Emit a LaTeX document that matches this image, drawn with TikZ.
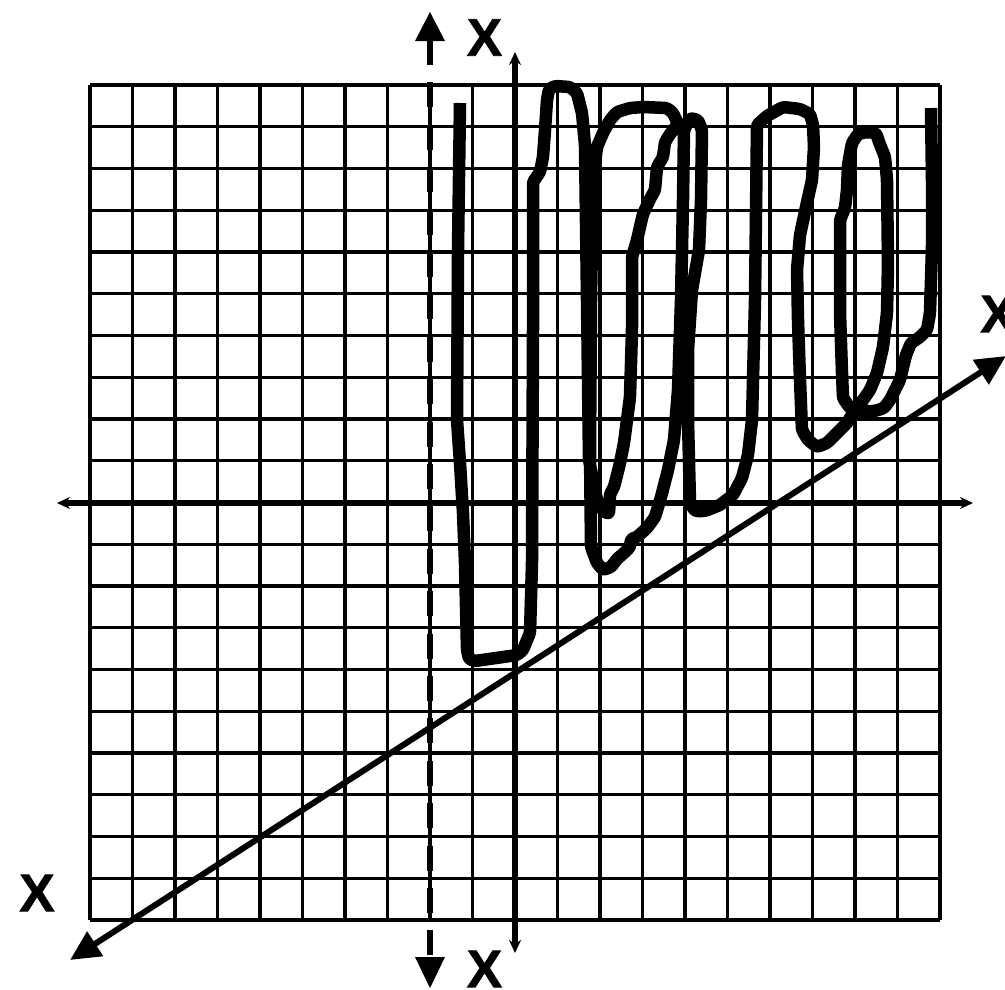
\documentclass[tikz,border=0pt]{standalone}
\usepackage{fontspec}
\setmainfont{Liberation Sans}
\newfontfamily\xlabfont[FakeBold=1.2]{Liberation Sans Bold}
\usetikzlibrary{arrows.meta}
\tikzset{
  gridline/.style={line width=3.2pt, black},
  axisline/.style={line width=5.2pt, black, {Stealth[length=13pt,width=12pt]}-{Stealth[length=13pt,width=12pt]}},
  dashline/.style={line width=6.8pt, black, dash pattern=on 25pt off 17.4pt},
  diagline/.style={line width=6pt, black, {Triangle[length=30pt,width=28pt]}-{Triangle[length=30pt,width=28pt]}},
  scribble/.style={line width=12.5pt, black, line join=round, line cap=butt, rounded corners=2.5pt},
  xlabel/.style={font=\xlabfont\fontsize{53}{53}\selectfont, inner sep=0pt, anchor=center}
}
\begin{document}
\begin{tikzpicture}[x=1pt,y=-1pt]
\useasboundingbox (0,0) rectangle (1005,989);
% grid
\foreach \i in {0,...,20} {
  \draw[gridline] ({90+42.5*\i},85) -- ({90+42.5*\i},920);
  \draw[gridline] (90,{85+41.75*\i}) -- (940,{85+41.75*\i});
}
% axes
\coordinate (xl) at (57,503);
\coordinate (xr) at (973,503);
\coordinate (yt) at (515,52);
\coordinate (yb) at (515,953);
\draw[axisline] (xl) -- (xr);
\draw[axisline] (yt) -- (yb);
% dashed vertical line with triangles
\coordinate (dt) at (430,40);
\coordinate (db) at (430,958);
\draw[dashline] (dt) -- (db);
\fill (415,41) -- (445,41) -- (430,12) -- cycle;
\fill (415,957) -- (445,957) -- (430,988) -- cycle;
% diagonal
\coordinate (dl) at (70,960);
\coordinate (dr) at (1006,356);
\draw[diagline] (dl) -- (dr);
% labels
\node[xlabel] (xtop) at (484.5,37.5) {X};
\node[xlabel] (xbot) at (484.5,969) {X};
\node[xlabel] (xleft) at (37,893) {X};
\node[xlabel] (xright) at (998,314) {X};
% scribble
\draw[scribble]
 (460,103) -- (458,250) -- (457,420) -- (460,463) -- (463,513) -- (465,563) -- (467,650) -- (469,659)
 -- (475,661) -- (517,655) -- (523,650) -- (527,640) -- (530,633) -- (532,563) -- (533,330) -- (533,182)
 -- (540,172) -- (543,157) -- (545,130) -- (547,100) -- (549,89) -- (555,86) -- (570,87) -- (577,93)
 -- (582,113) -- (585,145) -- (587,300) -- (589,460) -- (597,500) -- (603,511) -- (609,514) -- (610,494)
 -- (614,487) -- (620,463) -- (624,443) -- (630,397) -- (632,330) -- (632,257) -- (637,240) -- (643,214)
 -- (650,199) -- (655,190) -- (657,167) -- (663,157) -- (665,142) -- (670,134) -- (678,124)
 -- (673,113) -- (667,108) -- (643,107) -- (630,108) -- (617,112) -- (610,120) -- (603,133) -- (597,147)
 -- (593,180) -- (591,300) -- (590,450) -- (591,547) -- (597,563) -- (603,570) -- (611,567) -- (617,559)
 -- (624,553) -- (630,547) -- (631,539) -- (637,537) -- (647,528) -- (655,517) -- (661,497) -- (668,470)
 -- (674,440) -- (678,390) -- (681,300) -- (683,200) -- (684,130) -- (690,118) -- (698,120) -- (702,130)
 -- (701,200) -- (699,250) -- (692,290) -- (688,350) -- (688,420) -- (690,503) -- (695,511) -- (705,511)
 -- (720,505) -- (733,495) -- (742,478) -- (748,455) -- (752,420) -- (755,300) -- (757,125) -- (767,116)
 -- (783,107) -- (800,109) -- (810,114) -- (813,125) -- (814,147) -- (812,180) -- (806,207) -- (800,235)
 -- (797,270) -- (798,320) -- (800,380) -- (802,430) -- (808,440) -- (817,447) -- (827,443) -- (837,433)
 -- (847,423) -- (853,413) -- (863,400) -- (870,390) -- (877,373) -- (883,347) -- (887,313) -- (888,263)
 -- (887,180) -- (885,157) -- (879,142) -- (876,133) -- (867,132) -- (858,134) -- (852,143) -- (848,165)
 -- (847,190) -- (845,208) -- (840,220) -- (840,250) -- (840,313) -- (842,373) -- (843,398) -- (850,408)
 -- (860,411) -- (875,411) -- (884,408) -- (890,400) -- (900,380) -- (906,355) -- (911,343) -- (920,337)
 -- (927,330) -- (930,313) -- (932,247) -- (932,180) -- (931,108);
\end{tikzpicture}
\end{document}
